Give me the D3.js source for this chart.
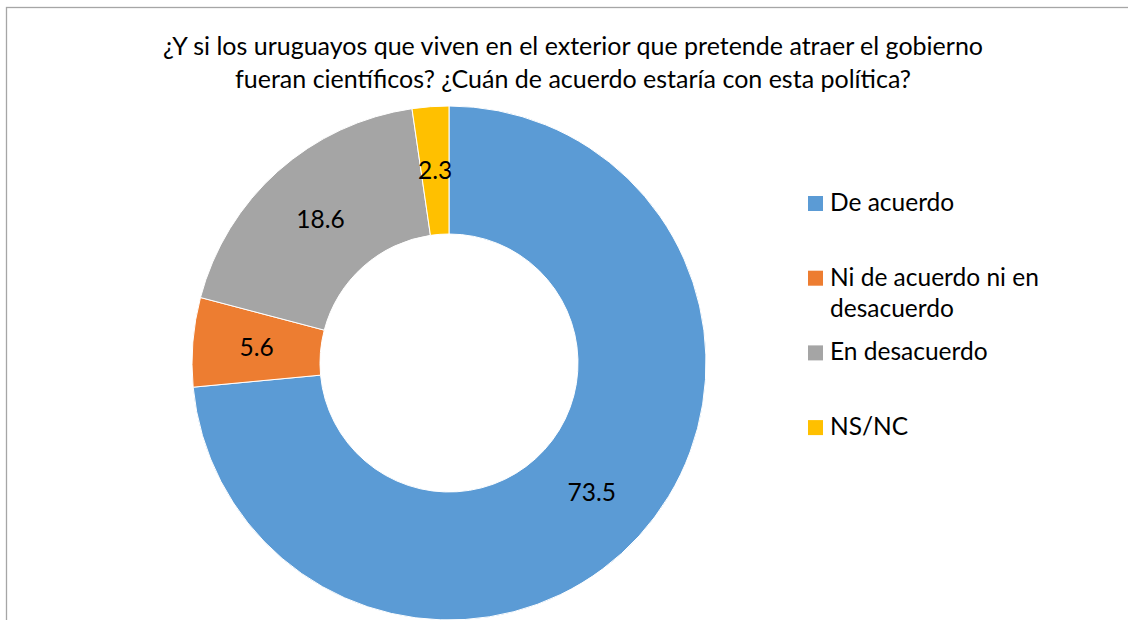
<!DOCTYPE html>
<html><head>
<meta charset="utf-8">
<title>Uruguayos en el exterior</title>
<script src="https://d3js.org/d3.v7.min.js"></script>
<style>
  body { margin: 0; background: #fff; }
  svg text { font-family: Lato, "Open Sans", sans-serif; fill: #000; }
  .title { font-size: 25px; text-anchor: middle; }
  .label { font-size: 24.5px; text-anchor: middle; }
  .legend text { font-size: 24.5px; }
</style>
</head>
<body>
<svg id="donut" width="1128" height="620"></svg>

<script>
// 1. Data
let titleLines = [
  "¿Y si los uruguayos que viven en el exterior que pretende atraer el gobierno",
  "fueran científicos? ¿Cuán de acuerdo estaría con esta política?"
];
let categories = ["De acuerdo", "Ni de acuerdo ni en desacuerdo", "En desacuerdo", "NS/NC"];
let values = [73.5, 5.6, 18.6, 2.3];
let colors = ["#5b9bd5", "#ed7d31", "#a5a5a5", "#ffc000"];

let data = categories.map((c, i) => ({ name: c, value: values[i] }));

// 2. Housekeeping
let svg = d3.select("svg#donut");
let cx = 449, cy = 363;
let outerR = 257, innerR = 129;

// outer frame (only left + top are visible in the picture)
svg.append("rect")
  .attr("x", 6.5).attr("y", 7.5)
  .attr("width", 1300).attr("height", 800)
  .attr("fill", "none")
  .attr("stroke", "#a6a6a6")
  .attr("stroke-width", 1.3);

// title
svg.append("g").selectAll("text")
  .data(titleLines)
  .join("text")
  .attr("class", "title")
  .attr("x", 573)
  .attr("y", (d, i) => 54.5 + i * 33.5)
  .text(d => d);

// 3. Pie + arc generators
let color = d3.scaleOrdinal().domain(categories).range(colors);
let pie = d3.pie().value(d => d.value).sort(null);
let arc = d3.arc().innerRadius(innerR).outerRadius(outerR);

let chart = svg.append("g").attr("transform", "translate(" + cx + "," + cy + ")");

chart.selectAll("path")
  .data(pie(data))
  .join("path")
  .attr("d", arc)
  .attr("fill", d => color(d.data.name))
  .attr("stroke", "#fff")
  .attr("stroke-width", 1);

chart.selectAll("text.label")
  .data(pie(data))
  .join("text")
  .attr("class", "label")
  .attr("transform", d => "translate(" + arc.centroid(d) + ")")
  .attr("dy", "0.35em")
  .text(d => d3.format(".1f")(d.data.value));

// 4. Legend
let legendX = 808, legendY = 196, legendStep = 74.7, box = 15;
let legend = svg.append("g").attr("class", "legend");

let items = legend.selectAll("g")
  .data(categories)
  .join("g")
  .attr("transform", (d, i) => "translate(" + legendX + "," + (legendY + i * legendStep) + ")");

items.append("rect")
  .attr("width", box).attr("height", box)
  .attr("fill", d => color(d));

items.append("text")
  .attr("x", 22)
  .attr("y", box)
  .text(d => d)
  .each(function() { wrap(d3.select(this), 228); });

// simple word wrap for long legend entries
function wrap(text, width) {
  let words = text.text().split(" ");
  let line = [];
  let tspan = text.text(null).append("tspan").attr("x", 22);
  words.forEach(w => {
    line.push(w);
    tspan.text(line.join(" "));
    if (tspan.node().getComputedTextLength() > width && line.length > 1) {
      line.pop();
      tspan.text(line.join(" "));
      line = [w];
      tspan = text.append("tspan").attr("x", 22).attr("dy", 31.5).text(w);
    }
  });
}
</script>
</body>
</html>
